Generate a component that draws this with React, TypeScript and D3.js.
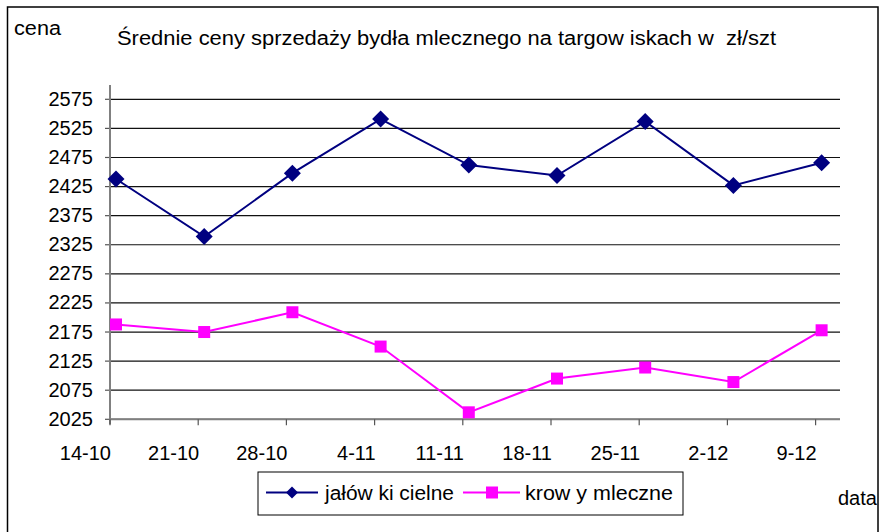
import React from "react";
import * as d3 from "d3";

const categories = ["14-10", "21-10", "28-10", "4-11", "11-11", "18-11", "25-11", "2-12", "9-12"];
const jalowki = [2438, 2339, 2448, 2541, 2462, 2444, 2537, 2427, 2466];
const krowy = [2188, 2175, 2209, 2150, 2037, 2095, 2114, 2089, 2178];
const yTicks = [2025, 2075, 2125, 2175, 2225, 2275, 2325, 2375, 2425, 2475, 2525, 2575];

const title = "Średnie ceny sprzedaży bydła mlecznego na targow iskach w  zł/szt";
const yTitle = "cena";
const xTitle = "data";
const seriesNames = ["jałów ki cielne", "krow y mleczne"];

const NAVY = "#000080";
const PINK = "#FF00FF";
const FONT = "'Liberation Sans', Arial, sans-serif";

export default function App() {
  const W = 880, H = 532;
  const left = 110, right = 840, top = 85, bottom = 419.3;
  const y = d3.scaleLinear().domain([2025, 2575]).range([bottom, 99.3]);
  const xTick = d3.scalePoint<string>().domain(categories).range([110, 815.6]);
  const ptOffset = 6;
  const px = (c: string) => (xTick(c) as number) + ptOffset;

  const line = d3
    .line<number>()
    .x((_, i) => px(categories[i]))
    .y((v) => y(v));

  const diamond = (cx: number, cy: number, r: number) =>
    `M${cx},${cy - r}L${cx + r},${cy}L${cx},${cy + r}L${cx - r},${cy}Z`;

  return (
    <svg
      width={W}
      height={H}
      style={{ position: "absolute", left: 0, top: 0, background: "#fff" }}
      fontFamily={FONT}
    >
      <rect x={0} y={0} width={W} height={H} fill="#fff" />
      <rect x={7.5} y={7} width={870.5} height={540} fill="none" stroke="#000" strokeWidth={1.5} />

      <text x={14} y={35} fontSize={20} textLength={47} lengthAdjust="spacingAndGlyphs">{yTitle}</text>
      <text x={117} y={44.5} fontSize={20} textLength={659} lengthAdjust="spacingAndGlyphs" style={{ whiteSpace: "pre" }}>{title}</text>

      {/* gridlines */}
      {yTicks.map((t) => (
        <g key={t}>
          <line x1={left} x2={right} y1={y(t)} y2={y(t)} stroke="#111" strokeWidth={1.2} />
          <line x1={left - 5} x2={left} y1={y(t)} y2={y(t)} stroke="#555" strokeWidth={1.2} />
          <text x={93} y={y(t) + 6.5} fontSize={20} textAnchor="end">{t}</text>
        </g>
      ))}

      {/* axes */}
      <line x1={left} x2={left} y1={top} y2={bottom + 5} stroke="#808080" strokeWidth={2} />
      <line x1={left} x2={right} y1={bottom} y2={bottom} stroke="#808080" strokeWidth={2} />
      {categories.map((c) => (
        <g key={c}>
          <line x1={xTick(c)} x2={xTick(c)} y1={bottom} y2={bottom + 6} stroke="#555" strokeWidth={1.2} />
          <text x={(xTick(c) as number) + 1} y={460} fontSize={20} textAnchor="end">{c}</text>
        </g>
      ))}

      {/* series */}
      <path d={line(jalowki) || ""} fill="none" stroke={NAVY} strokeWidth={2} />
      <path d={line(krowy) || ""} fill="none" stroke={PINK} strokeWidth={2} />
      {jalowki.map((v, i) => (
        <path key={"j" + i} d={diamond(px(categories[i]), y(v), 8.5)} fill={NAVY} />
      ))}
      {krowy.map((v, i) => (
        <rect key={"k" + i} x={px(categories[i]) - 6} y={y(v) - 6} width={12} height={12} fill={PINK} />
      ))}

      {/* legend */}
      <rect x={258} y={472} width={425} height={43} fill="#fff" stroke="#000" strokeWidth={1} />
      <line x1={266} x2={318} y1={492.5} y2={492.5} stroke={NAVY} strokeWidth={2} />
      <path d={diamond(292, 492.5, 6)} fill={NAVY} />
      <text x={325} y={500} fontSize={20} textLength={129} lengthAdjust="spacingAndGlyphs" style={{ whiteSpace: "pre" }}>{seriesNames[0]}</text>
      <line x1={463} x2={520} y1={492.5} y2={492.5} stroke={PINK} strokeWidth={2} />
      <rect x={486} y={486.5} width={12} height={12} fill={PINK} />
      <text x={525} y={500} fontSize={20} textLength={148} lengthAdjust="spacingAndGlyphs" style={{ whiteSpace: "pre" }}>{seriesNames[1]}</text>

      <text x={838} y={505} fontSize={20}>{xTitle}</text>
    </svg>
  );
}
